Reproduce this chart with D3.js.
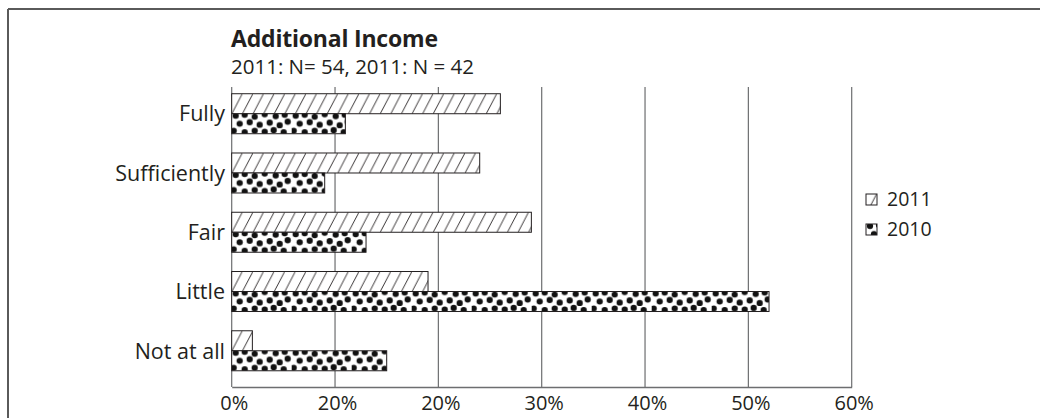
<!DOCTYPE html>
<html>
<head>
<meta charset="utf-8">
<script src="https://cdn.jsdelivr.net/npm/d3@7"></script>
<style>
  body { margin: 0; background: #fff; }
  text { font-family: "Open Sans", "Noto Sans", sans-serif; fill: #231f20; }
</style>
</head>
<body>
<div id="chart"></div>
<script>
// chart data
var categories = ["Fully", "Sufficiently", "Fair", "Little", "Not at all"];
var values2011 = [26, 24, 29, 19, 2];
var values2010 = [11, 9, 13, 52, 15];
var tickValues = [0, 10, 20, 30, 40, 50, 60];
var tickLabels = ["0%", "20%", "20%", "30%", "40%", "50%", "60%"];
var seriesNames = ["2011", "2010"];

var width = 1040, height = 418;
var svg = d3.select("#chart").append("svg").attr("width", width).attr("height", height);

var defs = svg.append("defs");

// diagonal hatch for 2011
var hatch = defs.append("pattern").attr("id", "hatch")
	.attr("patternUnits", "userSpaceOnUse").attr("width", 10.6).attr("height", 20.3);
hatch.append("rect").attr("width", 10.6).attr("height", 20.3).attr("fill", "#fff");
hatch.append("line").attr("x1", 0).attr("y1", 20.3).attr("x2", 10.6).attr("y2", 0)
	.attr("stroke", "#231f20").attr("stroke-width", 0.9);

// dots for 2010 (hand placed, a bit irregular like the print)
var dots = defs.append("pattern").attr("id", "dots")
	.attr("patternUnits", "userSpaceOnUse").attr("width", 60).attr("height", 20.3);
dots.append("rect").attr("width", 60).attr("height", 20.3).attr("fill", "#fff");
var dotPos = [[4,2],[13,1],[23,3],[33,0.5],[44,2.5],[53,1],
	[8,10],[18,8.5],[28,11],[38,9],[48,11.5],[56,8],
	[2,17],[13,18.5],[23,17],[33,18],[42,16.5],[52,18.5]];
dots.selectAll("circle").data(dotPos).enter().append("circle")
	.attr("cx", function(d){ return d[0]; })
	.attr("cy", function(d){ return d[1]; })
	.attr("r", 3.1).attr("fill", "#111");

// frame
svg.append("line").attr("x1", 8).attr("y1", 9).attr("x2", width).attr("y2", 9)
	.attr("stroke", "#5a5a5a").attr("stroke-width", 2);
svg.append("line").attr("x1", 8).attr("y1", 9).attr("x2", 8).attr("y2", height)
	.attr("stroke", "#5a5a5a").attr("stroke-width", 2);

// title
svg.append("text").attr("x", 231).attr("y", 47)
	.style("font-size", "23px").style("font-weight", "bold").style("letter-spacing", "-0.2px")
	.text("Additional Income");
svg.append("text").attr("x", 231).attr("y", 74)
	.style("font-size", "20.5px").text("2011: N= 54, 2011: N = 42");

var plotTop = 87, plotBottom = 387;
var x = d3.scaleLinear().domain([0, 60]).range([231.7, 851.7]);
var y = d3.scaleBand().domain(categories).range([84.1, 380.4]);
var barH = 20;

// gridlines
svg.selectAll(".grid").data(tickValues).enter().append("line")
	.attr("x1", function(d){ return x(d); }).attr("x2", function(d){ return x(d); })
	.attr("y1", plotTop).attr("y2", plotBottom)
	.attr("stroke", "#6d6e70").attr("stroke-width", 1.2);

// bottom axis
var axis = svg.append("g").attr("transform", "translate(0," + plotBottom + ")")
	.call(d3.axisBottom(x).tickValues(tickValues).tickSize(0).tickPadding(6)
		.tickFormat(function(d, i){ return tickLabels[i]; }));
axis.select(".domain").attr("stroke", "#6d6e70").attr("stroke-width", 1.4);
axis.selectAll("text").style("font-size", "20px").style("font-family", null).attr("fill", null)
	.attr("dx", 2).attr("dy", "0.85em");

// category labels
svg.selectAll(".cat").data(categories).enter().append("text")
	.attr("x", 225).attr("y", function(d){ return y(d) + y.bandwidth() / 2; })
	.attr("dy", "0.36em").attr("text-anchor", "end")
	.style("font-size", "21.5px").text(function(d){ return d; });

// bars
function drawBars(vals, offset, fill)
{
	var g = svg.selectAll(".bar" + offset).data(vals).enter().append("g")
		.attr("transform", function(d, i){
			return "translate(" + x(0) + "," + (y(categories[i]) + y.bandwidth() / 2 + offset) + ")";
		});
	g.append("rect").attr("x", 0).attr("y", 0)
		.attr("width", function(d){ return x(d) - x(0); })
		.attr("height", barH)
		.attr("fill", fill).attr("stroke", "#231f20").attr("stroke-width", 1);
}
drawBars(values2011, -barH, "url(#hatch)");
drawBars(values2010, 0, "url(#dots)");

// legend
var legend = svg.selectAll(".legend").data(seriesNames).enter().append("g")
	.attr("transform", function(d, i){ return "translate(866," + (194 + i * 30) + ")"; });
legend.append("rect").attr("width", 11).attr("height", 11)
	.attr("fill", function(d, i){ return i === 0 ? "url(#hatch)" : "url(#dots)"; })
	.attr("stroke", "#231f20").attr("stroke-width", 1);
legend.append("text").attr("x", 21).attr("y", 12)
	.style("font-size", "19.5px").text(function(d){ return d; });
</script>
</body>
</html>
